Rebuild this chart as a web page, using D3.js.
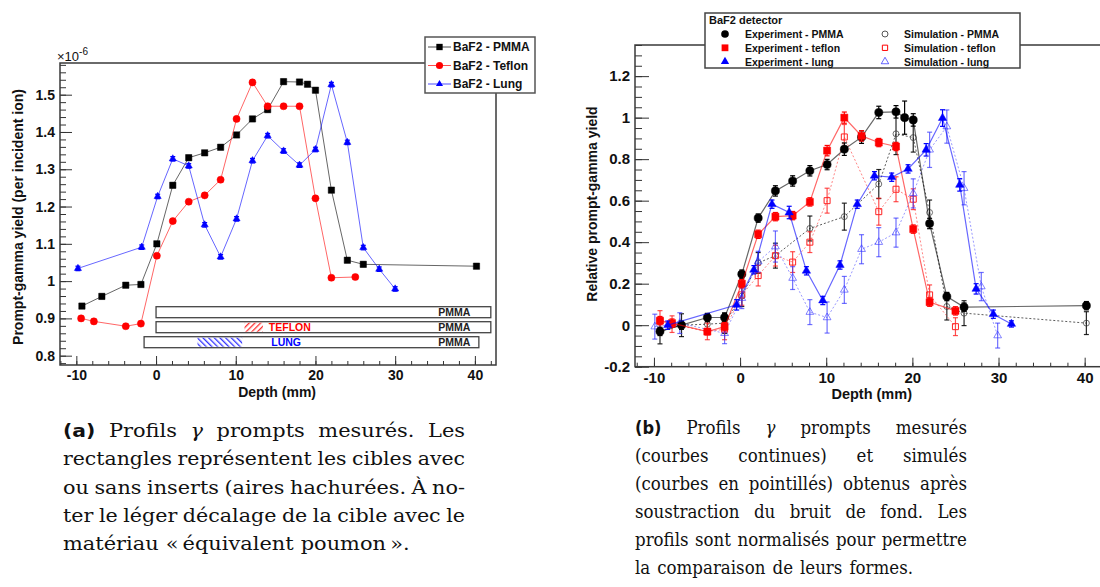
<!DOCTYPE html>
<html>
<head>
<meta charset="utf-8">
<script src="https://cdn.jsdelivr.net/npm/d3@7"></script>
<style>
body{margin:0;background:#fff}
svg text{font-family:"Liberation Sans",Arial,sans-serif;font-weight:bold;fill:#111}
.cap{font-family:"DejaVu Serif",serif !important;font-weight:normal !important}
.capi{font-family:"DejaVu Serif",serif !important;font-weight:normal !important;font-style:italic}
.capb{font-family:"DejaVu Sans",sans-serif !important}
</style>
</head>
<body>
<svg id="fig" width="1100" height="587"></svg>
<script>
// ---------- panel (a) : measured yield, x1e-6 per incident ion ----------
const depthPmmaA   = [-9.3,-6.8,-3.8,-1.9,0.1,2.1,4.1,6.1,8.1,10.1,12.1,14,16,18,19,20,22,24,26,40.2]
const yieldPmmaA   = [0.933,0.959,0.989,0.991,1.100,1.257,1.331,1.344,1.359,1.392,1.435,1.460,1.535,1.534,1.528,1.512,1.244,1.056,1.045,1.040]
const depthTeflonA = [-9.4,-7.8,-3.8,-1.9,0.1,2.1,4.1,6.1,8.1,10.1,12.1,14,16,18,20,22,25]
const yieldTeflonA = [0.900,0.892,0.879,0.886,1.068,1.161,1.213,1.230,1.272,1.435,1.533,1.469,1.469,1.469,1.222,1.009,1.011]
const depthLungA   = [-9.8,-1.8,0.2,2.1,4.1,6.1,8.1,10.1,12.1,14,16,18,20,22,24,26,28,30]
const yieldLungA   = [1.034,1.091,1.227,1.328,1.309,1.151,1.065,1.167,1.323,1.390,1.349,1.311,1.353,1.527,1.372,1.090,1.032,0.979]
const errA = 0.006

// targets drawn under the curves (depth in mm)
const targetNames  = ['PMMA','PMMA','PMMA']
const targetStart  = [0, 0, -1.5]
const targetEnd    = [42, 42, 40.5]
const insertName   = ['', 'TEFLON', 'LUNG']
const insertStart  = [null, 11.1, 5.2]
const insertEnd    = [null, 13.4, 10.8]

const legendA = ['BaF2 - PMMA','BaF2 - Teflon','BaF2 - Lung']

// ---------- panel (b) : normalised yield ----------
const depthPmmaB   = [-9.3,-6.8,-3.8,-1.8,0.2,2.1,4.1,6.1,8.1,10.1,12.1,14.1,16.1,18.1,19.1,20.1,22,24,26,40.2]
const expPmmaB     = [-0.03,0.0,0.037,0.037,0.246,0.516,0.647,0.695,0.744,0.774,0.848,0.906,1.025,1.028,1.0,0.989,0.49,0.138,0.087,0.094]
const expPmmaErr   = [0.02,0.02,0.02,0.02,0.02,0.02,0.025,0.025,0.025,0.025,0.03,0.03,0.03,0.03,0.08,0.03,0.025,0.02,0.02,0.02]
const simDepthPmma = [-9.3,-6.8,-3.8,-1.8,0.2,2.1,4.1,8.1,12.1,16.1,18.1,20.1,22,24,26,40.2]
const simPmmaB     = [-0.03,0.0,0.005,0.01,0.14,0.30,0.335,0.466,0.523,0.68,0.922,0.904,0.543,0.09,0.058,0.01]
const simPmmaErr   = [0.06,0.055,0.05,0.05,0.05,0.05,0.06,0.06,0.065,0.07,0.1,0.07,0.06,0.065,0.06,0.055]

const depthTeflonB = [-9.3,-7.9,-3.8,-1.8,0.2,2.1,4.1,6.1,8.1,10.1,12.1,14.1,16.1,18.1,20.1,22,25]
const expTeflonB   = [0.022,0.01,-0.031,-0.007,0.20,0.438,0.523,0.528,0.594,0.841,1.0,0.912,0.88,0.861,0.463,0.111,0.069]
const expTeflonErr = [0.02,0.02,0.015,0.02,0.02,0.02,0.02,0.02,0.02,0.025,0.027,0.025,0.02,0.02,0.02,0.02,0.02]
const simDepthTeflon = [-9.3,-7.9,-3.8,-1.8,0.2,2.1,4.1,6.1,8.1,10.1,12.1,16.1,18.1,20.1,22,25]
const simTeflonB   = [0.02,0.005,-0.03,-0.02,0.146,0.239,0.335,0.304,0.40,0.60,0.907,0.547,0.655,0.607,0.146,-0.007]
const simTeflonErr = [0.05,0.04,0.04,0.05,0.05,0.05,0.05,0.05,0.05,0.06,0.06,0.065,0.06,0.05,0.048,0.043]

const depthLungB   = [-8.4,-0.4,1.6,3.7,5.7,7.7,9.6,11.6,13.6,15.6,17.6,19.5,21.6,23.5,25.5,27.4,29.4,31.5]
const expLungB     = [0.0,0.098,0.267,0.583,0.543,0.262,0.119,0.29,0.583,0.72,0.713,0.753,0.845,0.998,0.676,0.175,0.053,0.006]
const expLungErr   = [0.02,0.025,0.02,0.02,0.03,0.02,0.02,0.02,0.02,0.02,0.02,0.02,0.03,0.04,0.03,0.025,0.02,0.015]
const simDepthLung = [-9.9,-7,-1.8,0.2,2.1,4.1,6.1,8.1,10.1,12.1,14.1,16.1,18.1,20.1,22,24,26,28,29.9]
const simLungB     = [-0.007,0.01,-0.039,0.13,0.306,0.379,0.227,0.063,0.037,0.17,0.366,0.40,0.446,0.635,0.845,0.957,0.66,0.186,-0.05]
const simLungErr   = [0.06,0.05,0.05,0.05,0.05,0.075,0.055,0.06,0.075,0.065,0.07,0.07,0.07,0.07,0.085,0.08,0.08,0.068,0.06]

const legendBexp = ['Experiment - PMMA','Experiment - teflon','Experiment - lung']
const legendBsim = ['Simulation - PMMA','Simulation - teflon','Simulation - lung']

const svg = d3.select('#fig')
svg.append('rect').attr('width',1100).attr('height',587).attr('fill','#fff')

let defs = svg.append('defs')
function hatch(id, color, angle){
    let p = defs.append('pattern').attr('id',id)
        .attr('patternUnits','userSpaceOnUse').attr('width',4).attr('height',4)
        .attr('patternTransform','rotate(' + angle + ')')
    p.append('rect').attr('x',0).attr('y',0).attr('width',1.3).attr('height',4).attr('fill',color)
}
hatch('hatchRed','#ff3030',45)
hatch('hatchBlue','#3030ff',-45)

// ---- draws one series: line, error bars, markers
function drawSeries(g, x, y, depth, val, err, o){
    let pts = depth.map((d,i) => ({d:d, v:val[i], e: Array.isArray(err) ? err[i] : err}))
    g.append('path')
        .datum(pts)
        .attr('fill','none')
        .attr('stroke',o.color)
        .attr('stroke-opacity',o.lineOpacity)
        .attr('stroke-width',o.lineWidth || 1)
        .attr('stroke-dasharray',o.dash || null)
        .attr('d', d3.line().x(p => x(p.d)).y(p => y(p.v)))

    let eb = g.append('g')
        .attr('stroke',o.errColor || o.color)
        .attr('stroke-opacity',o.errOpacity || 1)
        .attr('stroke-width',1.2)
    pts.forEach(function(p){
        let cx = x(p.d), y1 = y(p.v + p.e), y2 = y(p.v - p.e)
        eb.append('line').attr('x1',cx).attr('x2',cx).attr('y1',y1).attr('y2',y2)
        eb.append('line').attr('x1',cx-2.5).attr('x2',cx+2.5).attr('y1',y1).attr('y2',y1)
        eb.append('line').attr('x1',cx-2.5).attr('x2',cx+2.5).attr('y1',y2).attr('y2',y2)
    })

    g.selectAll(null)
        .data(pts)
        .enter()
        .append('path')
        .attr('transform', p => 'translate(' + x(p.d) + ',' + y(p.v) + ')')
        .attr('d', d3.symbol().type(o.symbol).size(o.size))
        .attr('fill', o.filled ? o.color : 'none')
        .attr('stroke', o.color)
        .attr('stroke-opacity', o.filled ? 1 : (o.markerOpacity || 1))
        .attr('stroke-width', o.filled ? 0.5 : 1)
}

function frameAxes(g, x, y, box, xt, yMajor, yMinor, yFmt, fs, ylen){
    // x ticks (inside)
    g.append('g').attr('transform','translate(0,' + box.b + ')')
        .call(d3.axisBottom(x).tickValues(d3.range(-12, 44, 2)).tickSizeInner(-4).tickSizeOuter(0).tickFormat(''))
        .call(a => a.select('.domain').remove())
    g.append('g').attr('transform','translate(0,' + box.b + ')')
        .call(d3.axisBottom(x).tickValues(xt).tickSizeInner(-9).tickSizeOuter(0).tickPadding(2).tickFormat(d => String(d)))
        .call(a => a.select('.domain').remove())
        .call(a => a.selectAll('text').attr('font-size',fs).attr('dy','0.95em'))
    g.append('g').attr('transform','translate(' + box.l + ',0)')
        .call(d3.axisLeft(y).tickValues(yMinor).tickSizeInner(-ylen/2).tickSizeOuter(0).tickFormat(''))
        .call(a => a.select('.domain').remove())
    g.append('g').attr('transform','translate(' + box.l + ',0)')
        .call(d3.axisLeft(y).tickValues(yMajor).tickSizeInner(-ylen).tickSizeOuter(0).tickPadding(5).tickFormat(yFmt))
        .call(a => a.select('.domain').remove())
        .call(a => a.selectAll('text').attr('font-size',fs))
    g.selectAll('.tick line').attr('stroke','#333')
    g.selectAll('.tick text').attr('fill','#111').attr('font-family','"Liberation Sans",Arial,sans-serif').attr('font-weight','bold')
    g.append('rect')
        .attr('x',box.l).attr('y',box.t)
        .attr('width',box.r - box.l).attr('height',box.b - box.t)
        .attr('fill','none').attr('stroke','#3a3a3a').attr('stroke-width',1.5)
}

// =================== panel (a) ===================
const xA = d3.scaleLinear().domain([-12.05, 42.65]).range([60, 496])
const yA = d3.scaleLinear().domain([0.775, 1.585]).range([365, 63])
let gA = svg.append('g')

frameAxes(gA, xA, yA, {l:60, r:496, t:63, b:365}, [-10,0,10,20,30,40],
    d3.range(8, 16).map(v => v / 10), d3.range(39, 80).map(v => v / 50),
    d => String(+d.toFixed(1)), 14, 12)

// targets
const rowTop = [306.7, 321.7, 336.7]
const rowH = 11
targetNames.forEach(function(name, i){
    gA.append('rect')
        .attr('x', xA(targetStart[i])).attr('y', rowTop[i])
        .attr('width', xA(targetEnd[i]) - xA(targetStart[i])).attr('height', rowH)
        .attr('fill','#fff').attr('stroke','#444').attr('stroke-width',1.3)
    if(insertStart[i] != null){
        gA.append('rect')
            .attr('x', xA(insertStart[i])).attr('y', rowTop[i] + 1)
            .attr('width', xA(insertEnd[i]) - xA(insertStart[i])).attr('height', rowH - 2)
            .attr('fill', i == 1 ? 'url(#hatchRed)' : 'url(#hatchBlue)')
        gA.append('text')
            .attr('x', xA(insertEnd[i]) + (i == 1 ? 27 : 44)).attr('y', rowTop[i] + 9.5)
            .attr('text-anchor','middle').attr('font-size',10.5)
            .style('fill', i == 1 ? '#f00' : '#00f')
            .text(insertName[i])
    }
    gA.append('text')
        .attr('x', xA(35.4)).attr('y', rowTop[i] + 9.5)
        .attr('font-size',10.5).style('fill','#222')
        .text(name)
})

drawSeries(gA, xA, yA, depthPmmaA, yieldPmmaA, errA, {color:'#000', lineOpacity:0.6, symbol:d3.symbolSquare, size:40, filled:true})
drawSeries(gA, xA, yA, depthTeflonA, yieldTeflonA, errA, {color:'#f00', lineOpacity:0.6, symbol:d3.symbolCircle, size:40, filled:true})
drawSeries(gA, xA, yA, depthLungA, yieldLungA, errA, {color:'#00f', lineOpacity:0.6, symbol:d3.symbolTriangle, size:22, filled:true})

// exponent label
let expo = gA.append('text').attr('x',57).attr('y',61).attr('font-size',13).style('font-weight','normal')
expo.append('tspan').text('\u00d710')
expo.append('tspan').attr('dy',-6).attr('font-size',10).text('-6')

gA.append('text')
    .attr('transform','translate(23,217) rotate(-90)')
    .attr('text-anchor','middle').attr('font-size',14)
    .text('Prompt-gamma yield (per incident ion)')
gA.append('text')
    .attr('x',316).attr('y',397).attr('text-anchor','end').attr('font-size',14)
    .text('Depth (mm)')

// legend (a)
let legA = gA.append('g')
legA.append('rect').attr('x',425).attr('y',37).attr('width',110).attr('height',56)
    .attr('fill','#fff').attr('stroke','#555').attr('stroke-width',1.5)
const legSymA = [d3.symbolSquare, d3.symbolCircle, d3.symbolTriangle]
const legColA = ['#000','#f00','#00f']
legendA.forEach(function(t, i){
    let yy = 47 + i * 18.5
    legA.append('line').attr('x1',428).attr('x2',451).attr('y1',yy).attr('y2',yy)
        .attr('stroke',legColA[i]).attr('stroke-opacity',0.7)
    legA.append('path').attr('transform','translate(439.5,' + yy + ')')
        .attr('d', d3.symbol().type(legSymA[i]).size(i == 2 ? 22 : 40)).attr('fill',legColA[i])
    legA.append('text').attr('x',453).attr('y',yy + 4.3).attr('font-size',12).text(t)
})

// =================== panel (b) ===================
const xB = d3.scaleLinear().domain([-12.2, 43.0]).range([635, 1110.5])
const yB = d3.scaleLinear().domain([-0.2, 1.35]).range([366.7, 45])
let gB = svg.append('g')

frameAxes(gB, xB, yB, {l:635, r:1110.5, t:45, b:366.7}, [-10,0,10,20,30,40],
    d3.range(-2, 13, 2).map(v => v / 10), d3.range(-4, 28).map(v => v / 20),
    d => String(+d.toFixed(1)), 15, 14)

drawSeries(gB, xB, yB, simDepthPmma, simPmmaB, simPmmaErr, {color:'#333', lineOpacity:0.8, dash:'2,2', symbol:d3.symbolCircle, size:28, filled:false, errColor:'#000', errOpacity:0.85, markerOpacity:0.7})
drawSeries(gB, xB, yB, simDepthTeflon, simTeflonB, simTeflonErr, {color:'#f22', lineOpacity:0.55, dash:'2,2', symbol:d3.symbolSquare, size:36, filled:false, errOpacity:0.8})
drawSeries(gB, xB, yB, simDepthLung, simLungB, simLungErr, {color:'#33f', lineOpacity:0.5, dash:'2,2', symbol:d3.symbolTriangle, size:26, filled:false, errOpacity:0.7, markerOpacity:0.6})
drawSeries(gB, xB, yB, depthPmmaB, expPmmaB, expPmmaErr, {color:'#000', lineOpacity:0.6, lineWidth:1.2, symbol:d3.symbolCircle, size:52, filled:true})
drawSeries(gB, xB, yB, depthTeflonB, expTeflonB, expTeflonErr, {color:'#f00', lineOpacity:0.6, lineWidth:1.2, symbol:d3.symbolSquare, size:50, filled:true})
drawSeries(gB, xB, yB, depthLungB, expLungB, expLungErr, {color:'#00f', lineOpacity:0.6, lineWidth:1.2, symbol:d3.symbolTriangle, size:30, filled:true})

gB.append('text')
    .attr('transform','translate(597,204) rotate(-90)')
    .attr('text-anchor','middle').attr('font-size',14)
    .text('Relative prompt-gamma yield')
gB.append('text')
    .attr('x',912).attr('y',399).attr('text-anchor','end').attr('font-size',14.5)
    .text('Depth (mm)')

// legend (b)
let legB = gB.append('g')
legB.append('rect').attr('x',705).attr('y',13).attr('width',315).attr('height',55)
    .attr('fill','#fff').attr('stroke','#444').attr('stroke-width',1.5)
legB.append('text').attr('x',709).attr('y',24).attr('font-size',11).text('BaF2 detector')
const legSymB = [d3.symbolCircle, d3.symbolSquare, d3.symbolTriangle]
const legColB = ['#000','#f00','#00f']
legendBexp.forEach(function(t, i){
    let yy = 34 + i * 13.8
    legB.append('path').attr('transform','translate(725,' + yy + ')')
        .attr('d', d3.symbol().type(legSymB[i]).size(i == 2 ? 30 : 46)).attr('fill',legColB[i])
    legB.append('text').attr('x',745).attr('y',yy + 4).attr('font-size',10.5).text(t)
    legB.append('path').attr('transform','translate(885,' + yy + ')')
        .attr('d', d3.symbol().type(legSymB[i]).size(i == 2 ? 24 : 28))
        .attr('fill','none').attr('stroke', i == 0 ? '#555' : legColB[i]).attr('stroke-opacity', i == 2 ? 0.6 : 1)
    legB.append('text').attr('x',904).attr('y',yy + 4).attr('font-size',10.5).text(legendBsim[i])
})

// =================== captions ===================
const captionA = [
    [['(a)','capb'],['Profils'],['\u03b3','capi'],['prompts'],['mesurés.'],['Les']],
    [['rectangles'],['représentent'],['les'],['cibles'],['avec']],
    [['ou'],['sans'],['inserts'],['(aires'],['hachurées.'],['À'],['no-']],
    [['ter'],['le'],['léger'],['décalage'],['de'],['la'],['cible'],['avec'],['le']],
    [['matériau'],['«\u2009équivalent'],['poumon\u2009».']]
]
const captionB = [
    [['(b)','capb'],['Profils'],['\u03b3','capi'],['prompts'],['mesurés']],
    [['(courbes'],['continues)'],['et'],['simulés']],
    [['(courbes'],['en'],['pointillés)'],['obtenus'],['après']],
    [['soustraction'],['du'],['bruit'],['de'],['fond.'],['Les']],
    [['profils'],['sont'],['normalisés'],['pour'],['permettre']],
    [['la'],['comparaison'],['de'],['leurs'],['formes.']]
]

// justified caption; glyphs are stretched horizontally by "stretch"
function caption(lines, x0, x1, y0, lh, fs, stretch, minGap){
    let g = svg.append('g')
    lines.forEach(function(words, li){
        let y = y0 + li * lh
        let last = li == lines.length - 1
        let nodes = words.map(w => g.append('text').attr('class', w[1] || 'cap')
            .attr('font-size', w[1] == 'capb' ? fs - 0.5 : fs).text(w[0]))
        let widths = nodes.map(n => n.node().getComputedTextLength())
        let total = d3.sum(widths) * stretch
        let n = words.length
        let sc = stretch, gap
        if(last){
            gap = minGap + 1.5
        } else {
            gap = (x1 - x0 - total) / (n - 1)
            if(gap < minGap){
                sc = stretch * (x1 - x0 - minGap * (n - 1)) / total
                gap = minGap
            }
        }
        let x = x0
        nodes.forEach(function(nd, i){
            nd.attr('transform','translate(' + x + ',' + y + ') scale(' + sc + ',1)')
            x += widths[i] * sc + gap
        })
    })
}
caption(captionA, 63, 465, 437, 28.3, 19, 1.1, 5.5)
caption(captionB, 635, 967, 434, 28, 18.5, 0.9, 5.5)
</script>
</body>
</html>
